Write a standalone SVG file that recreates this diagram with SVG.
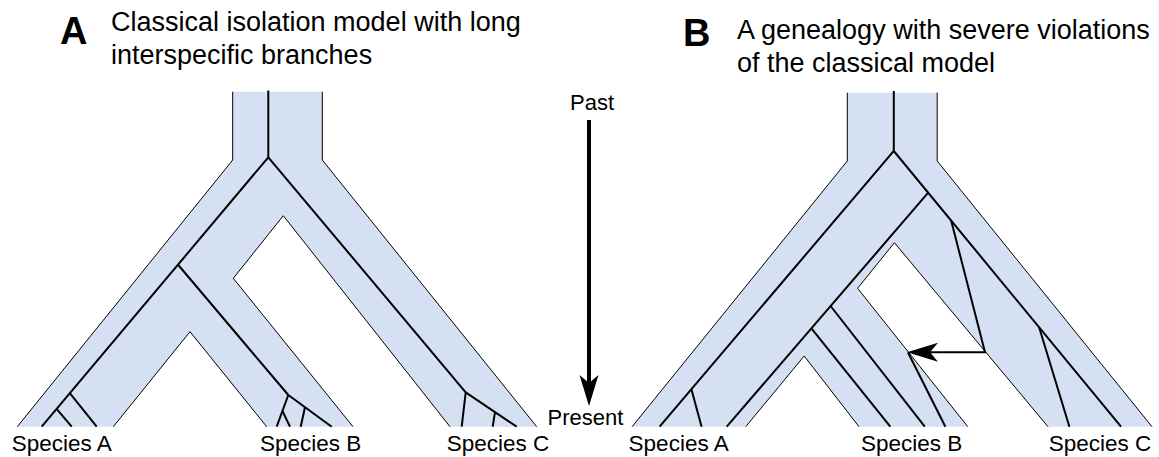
<svg xmlns="http://www.w3.org/2000/svg" width="1159" height="457" viewBox="0 0 1159 457">
<style>
.fill{fill:#D5E0F2;stroke:none}
.edge{fill:none;stroke:#000;stroke-width:1;stroke-linejoin:miter}
.gene{fill:none;stroke:#000;stroke-width:2;stroke-linejoin:miter}
.lbl{font-family:"Liberation Sans",Arial,sans-serif;font-size:22.5px;fill:#000}
.ttl{font-family:"Liberation Sans",Arial,sans-serif;font-size:27px;fill:#000}
.big{font-family:"Liberation Sans",Arial,sans-serif;font-size:38px;font-weight:bold;fill:#000}
.time{font-family:"Liberation Sans",Arial,sans-serif;font-size:22px;fill:#000}
</style>
<defs>
<marker id="ah" markerUnits="userSpaceOnUse" markerWidth="32" markerHeight="20" viewBox="0 0 32 20" refX="8" refY="10" orient="auto">
<path d="M31,10 L0,0.5 L8,10 L0,19.5 Z" fill="#000"/>
</marker>
</defs>

<g id="titleA">
<text class="big" x="60" y="44" font-size="41px">A</text>
<text class="ttl" x="111" y="31">Classical isolation model with long</text>
<text class="ttl" x="111" y="63.5">interspecific branches</text>
</g>
<g id="titleB">
<text class="big" x="683" y="46">B</text>
<text class="ttl" x="737" y="39">A genealogy with severe violations</text>
<text class="ttl" x="737" y="71.5">of the classical model</text>
</g>

<g id="speciesTreeA">
<polygon class="fill" points="232.7,91.7 232.7,160 17.3,426.7 113.3,426.7 190,331.7 266.7,426.7 353,426.7 233.3,278.3 283.3,215.7 450,426.7 536.7,426.7 322.3,160 322.3,91.7"/>
<polyline class="edge" points="232.7,91.7 232.7,160 17.3,426.7"/>
<polyline class="edge" points="113.3,426.7 190,331.7 266.7,426.7"/>
<polyline class="edge" points="353,426.7 233.3,278.3 283.3,215.7 450,426.7"/>
<polyline class="edge" points="536.7,426.7 322.3,160 322.3,91.7"/>
</g>

<g id="speciesTreeB">
<polygon class="fill" points="847.3,92.7 847.3,161 632.1,426.7 745.7,426.7 804.2,356 859,426.7 967.8,426.7 857.6,288.3 894.4,242.7 1048,426.7 1152,426.7 937.2,161 937.2,92.7"/>
<polyline class="edge" points="847.3,92.7 847.3,161 632.1,426.7"/>
<polyline class="edge" points="745.7,426.7 804.2,356 859,426.7"/>
<polyline class="edge" points="967.8,426.7 857.6,288.3 894.4,242.7 1048,426.7"/>
<polyline class="edge" points="1152,426.7 937.2,161 937.2,92.7"/>
</g>

<g id="connectors">
<polyline class="gene" points="268.3,90.5 268.3,157.3 41.7,426.7"/>
<line class="gene" x1="70" y1="393.3" x2="96.7" y2="426.7"/>
<line class="gene" x1="57" y1="409.3" x2="71.7" y2="426.7"/>
<line class="gene" x1="178.3" y1="265" x2="288.3" y2="395"/>
<line class="gene" x1="288.3" y1="395" x2="276.7" y2="426.7"/>
<line class="gene" x1="282.5" y1="411" x2="290" y2="426.7"/>
<line class="gene" x1="288.3" y1="395" x2="331.7" y2="426.7"/>
<line class="gene" x1="305" y1="407.2" x2="300.7" y2="426.7"/>
<line class="gene" x1="268.3" y1="157.3" x2="465.7" y2="392.3"/>
<line class="gene" x1="465.7" y1="392.3" x2="461.7" y2="426.7"/>
<line class="gene" x1="465.7" y1="392.3" x2="516.7" y2="426.7"/>
<line class="gene" x1="495" y1="412.1" x2="492.7" y2="426.7"/>

<polyline class="gene" points="893.8,91 893.8,151 659.6,426.7"/>
<line class="gene" x1="691.4" y1="389.3" x2="701.6" y2="426.7"/>
<line class="gene" x1="893.8" y1="151" x2="1121" y2="426.7"/>
<line class="gene" x1="928.2" y1="192.7" x2="726.7" y2="426.7"/>
<line class="gene" x1="830.6" y1="306" x2="924.8" y2="426.7"/>
<line class="gene" x1="811.4" y1="328.3" x2="890.3" y2="426.7"/>
<polyline class="gene" points="951.2,220.7 985,352.3 930,352.3" marker-end="url(#ah)"/>
<line class="gene" x1="908" y1="352.5" x2="945.4" y2="426.7"/>
<line class="gene" x1="1039.1" y1="327.3" x2="1069.4" y2="426.7"/>

<line x1="589" y1="120" x2="589" y2="383" stroke="#000" stroke-width="4" marker-end="url(#ah)"/>
</g>

<g id="timeLabels">
<text class="time" x="570" y="110">Past</text>
<text class="time" x="547.5" y="425">Present</text>
</g>

<g id="speciesLabels">
<text class="lbl" x="11.7" y="450.5">Species A</text>
<text class="lbl" x="260" y="450.5">Species B</text>
<text class="lbl" x="446.7" y="450.5">Species C</text>
<text class="lbl" x="628.6" y="450.5">Species A</text>
<text class="lbl" x="861" y="450.5">Species B</text>
<text class="lbl" x="1048.7" y="450.5">Species C</text>
</g>
</svg>
